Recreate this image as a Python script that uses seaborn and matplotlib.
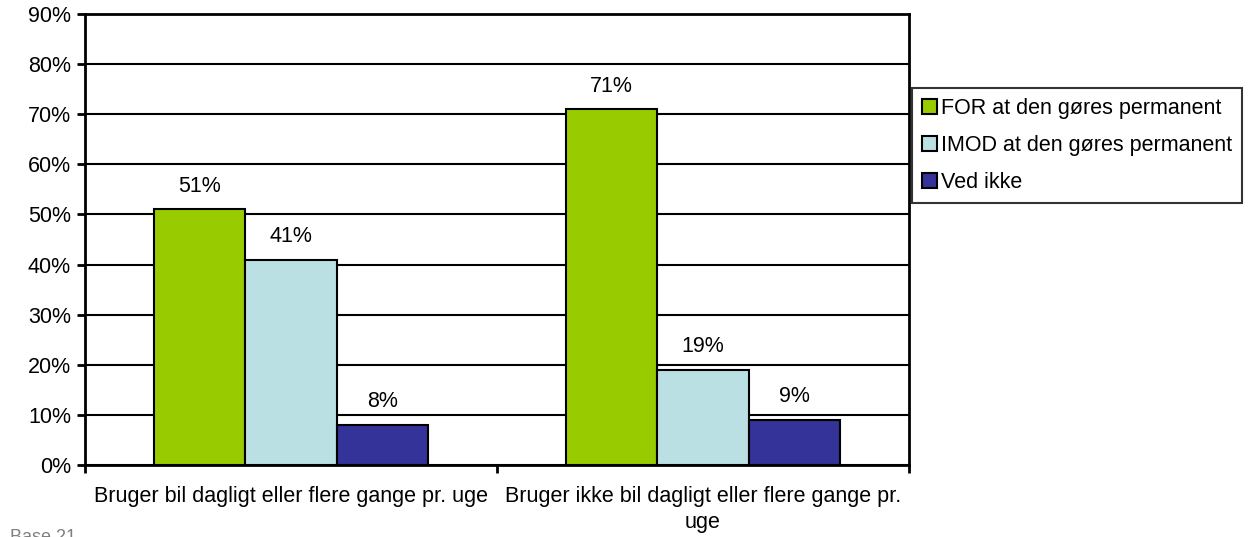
import matplotlib
matplotlib.use("Agg")
import matplotlib.pyplot as plt
import seaborn as sns
import pandas as pd
from matplotlib.ticker import FixedLocator, PercentFormatter

categories = ["Bruger bil dagligt eller flere gange pr. uge",
              "Bruger ikke bil dagligt eller flere gange pr.\nuge"]
series = ["FOR at den gøres permanent", "IMOD at den gøres permanent", "Ved ikke"]
values_for = [51, 71]
values_imod = [41, 19]
values_ved_ikke = [8, 9]
colors = ["#99CC00", "#BBE0E3", "#333399"]

df = pd.DataFrame({
    "Gruppe": categories * 3,
    "Svar": [s for s in series for _ in categories],
    "Andel": values_for + values_imod + values_ved_ikke,
})

sns.set_style("white")
plt.rcParams["font.family"] = ["Liberation Sans", "DejaVu Sans"]
plt.rcParams["text.color"] = "black"
plt.rcParams["xtick.color"] = "black"
plt.rcParams["ytick.color"] = "black"

fs = 15.5

fig = plt.figure(figsize=(12.51, 5.37), dpi=100)
ax = fig.add_axes([85 / 1251, 1 - 465 / 537, (909 - 85) / 1251, (465 - 14) / 537])

sns.barplot(data=df, x="Gruppe", y="Andel", hue="Svar", order=categories,
            hue_order=series, palette=colors, width=0.667, gap=0,
            edgecolor="black", linewidth=1.5, saturation=1, ax=ax, zorder=3)

for cont in ax.containers:
    ax.bar_label(cont, labels=[f"{v:.0f}%" for v in cont.datavalues],
                 padding=9, fontsize=fs)

ax.set_xlim(-0.5, 1.5)
ax.set_ylim(0, 90)
ax.yaxis.set_major_locator(FixedLocator(range(0, 91, 10)))
ax.yaxis.set_major_formatter(PercentFormatter(decimals=0))
ax.grid(axis="y", color="black", linewidth=1.5, zorder=0)
ax.set_axisbelow(True)
for sp in ax.spines.values():
    sp.set_visible(True)
    sp.set_color("black")
    sp.set_linewidth(2)

ax.set_xticks([0, 1])
ax.set_xticklabels(categories, linespacing=1.3)
ax.tick_params(axis="x", which="major", length=0, pad=15, labelsize=fs)
ax.xaxis.set_minor_locator(FixedLocator([-0.5, 0.5, 1.5]))
ax.tick_params(axis="x", which="minor", length=6, width=2, direction="out",
               color="black", bottom=True)
ax.tick_params(axis="y", length=6, width=2, direction="out", color="black",
               left=True, labelsize=fs, pad=4)
ax.set_xlabel("")
ax.set_ylabel("")

leg = ax.legend(loc="upper left", bbox_to_anchor=(912 / 1251, 1 - 88 / 537),
                bbox_transform=fig.transFigure, frameon=True, fancybox=False,
                edgecolor="black", fontsize=15.5, handlelength=0.7,
                handleheight=0.7, handletextpad=0.2, borderpad=0.45,
                labelspacing=0.75, borderaxespad=0)
leg.get_frame().set_linewidth(1.5)
for h in leg.legend_handles:
    h.set_edgecolor("black")
    h.set_linewidth(1.5)

fig.text(10 / 1251, 1 - 529 / 537, "Base 21", color="#808080", fontsize=13,
         va="top", ha="left")

fig.savefig("out.png", dpi=100)
